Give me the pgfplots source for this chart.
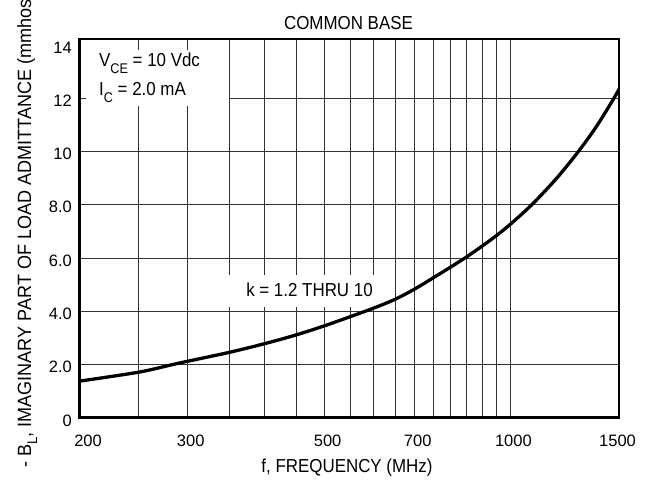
\documentclass[border=0pt]{standalone}
\usepackage{fontspec}
\setmainfont{Liberation Sans}
\newfontfamily\narrowfont{Liberation Sans}[FakeStretch=0.9]
\newfontfamily\ylabfont{Liberation Sans}[FakeStretch=0.94]
\usepackage{pgfplots}
\pgfplotsset{compat=1.18}
\newcommand{\annot}{\narrowfont\fontsize{18.8}{22}\selectfont}
\newcommand{\sub}[1]{\raisebox{-0.32em}{\fontsize{14}{14}\selectfont #1}}
\begin{document}
\begin{tikzpicture}
\useasboundingbox (0pt,0pt) rectangle (646pt,487pt);
\begin{axis}[
  at={(79pt,69pt)}, anchor=south west,
  scale only axis, width=540pt, height=379pt,
  xmode=log, xmin=200, xmax=1500,
  ymin=0, ymax=14.22,
  xtick={200,250,300,350,400,450,500,550,600,650,700,750,800,850,900,950,1000,1500},
  xticklabels={\hspace*{12pt}200,,300,,,,500,,,,700,,,,,,1000,1500\hspace*{9pt}},
  ytick={0,2,4,6,8,10,12},
  yticklabels={0,2.0,4.0,6.0,8.0,10,12},
  extra y ticks={14}, extra y tick labels={14},
  extra y tick style={grid=none},
  major tick length=0pt,
  grid=major,
  grid style={line width=0.8pt, black!80},
  axis line style={line width=1.2pt},
  xticklabel style={font=\fontsize{16.5}{18}\selectfont, anchor=base, inner sep=0pt, yshift=-29pt, xshift=3pt},
  yticklabel style={font=\fontsize{16.5}{18}\selectfont, anchor=east, inner sep=0pt, xshift=-7pt, yshift=-2.5pt},
]
\fill[white] (rel axis cs:0.013,0.823) rectangle (rel axis cs:0.278,0.971);
\fill[white] (rel axis cs:0.272,0.292) rectangle (rel axis cs:0.567,0.377);
\addplot[line width=3.3pt, black, smooth, tension=0.5] table {
f v
200 1.38
250 1.72
283 2.00
300 2.13
350 2.46
400 2.79
450 3.12
500 3.46
550 3.80
600 4.12
650 4.45
700 4.84
750 5.26
800 5.66
850 6.05
900 6.45
950 6.85
1000 7.27
1083 8.00
1188 8.99
1289 10.00
1380 10.95
1472 12.00
1500 12.34
};
\end{axis}
\draw[line width=3pt] (79pt,448.5pt) -- (79pt,69pt) -- (620pt,69pt);
\node[anchor=base west, inner sep=0pt, font=\annot] at (99pt,420pt) {V\sub{CE} = 10 Vdc};
\node[anchor=base west, inner sep=0pt, font=\annot] at (99pt,391pt) {I\sub{C} = 2.0 mA};
\node[anchor=base, inner sep=0pt, font=\annot] at (309.5pt,190.3pt) {k = 1.2 THRU 10};
\node[anchor=base, inner sep=0pt, font=\annot] at (348.5pt,457.7pt) {COMMON BASE};
\node[anchor=base, inner sep=0pt, font=\annot] at (347pt,14.5pt) {f, FREQUENCY (MHz)};
\node[anchor=base west, inner sep=0pt, rotate=90, font=\ylabfont\fontsize{19.2}{22}\selectfont] at (31pt,19pt) {- B\sub{L}, IMAGINARY PART OF LOAD ADMITTANCE (mmhos};
\end{tikzpicture}
\end{document}
